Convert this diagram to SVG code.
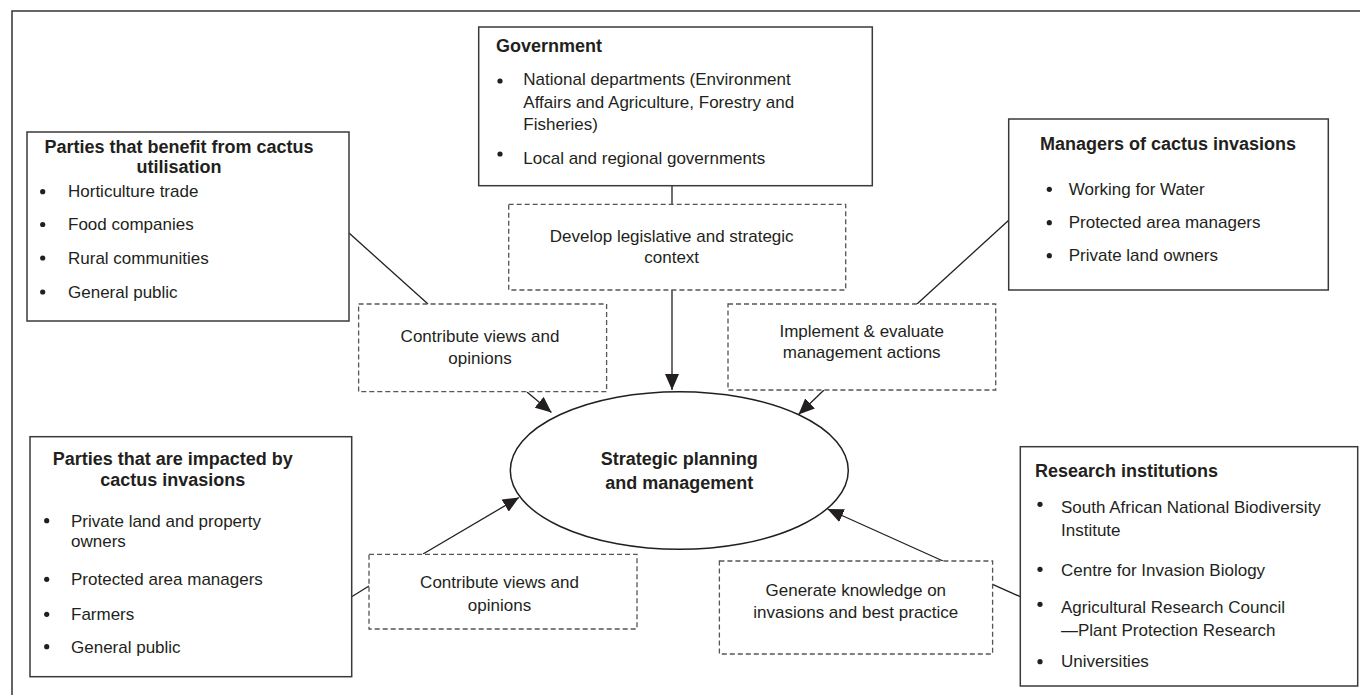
<svg xmlns="http://www.w3.org/2000/svg" width="1360" height="695" viewBox="0 0 1360 695">
<defs>
<marker id="arr" markerUnits="userSpaceOnUse" markerWidth="16" markerHeight="14" refX="16" refY="7" orient="auto">
<path d="M0,0 L16,7 L0,14 z" fill="#231f20"/>
</marker>
<style>
.box{fill:#fff;stroke:#3a3a3a;stroke-width:1.5}
.dash{fill:#fff;stroke:#555;stroke-width:1.3;stroke-dasharray:5 3}
.t{font-family:"Liberation Sans",Arial,sans-serif;font-size:17px;fill:#231f20}
.b{font-family:"Liberation Sans",Arial,sans-serif;font-size:18px;font-weight:bold;fill:#231f20}
.m{text-anchor:middle}
.dot{fill:#231f20}
.ln{stroke:#231f20;stroke-width:1.3;fill:none}
</style>
</defs>
<rect width="1360" height="695" fill="#fff"/>
<path d="M12,695 V11 H1360" fill="none" stroke="#333" stroke-width="1.5"/>

<g id="connectors">
<line class="ln" x1="349" y1="233" x2="428" y2="304"/>
<line class="ln" x1="1009" y1="220" x2="917" y2="304"/>
<line class="ln" x1="672" y1="186" x2="672" y2="204"/>
<line class="ln" x1="672" y1="290" x2="672" y2="390" marker-end="url(#arr)"/>
<line class="ln" x1="527" y1="392" x2="551.5" y2="412.5" marker-end="url(#arr)"/>
<line class="ln" x1="824" y1="390" x2="798.5" y2="414.5" marker-end="url(#arr)"/>
<line class="ln" x1="423" y1="554" x2="519" y2="497.5" marker-end="url(#arr)"/>
<line class="ln" x1="943" y1="561" x2="827.5" y2="509" marker-end="url(#arr)"/>
<line class="ln" x1="351.7" y1="596.7" x2="369" y2="586"/>
<line class="ln" x1="992.6" y1="584.3" x2="1020.3" y2="596.7"/>
</g>

<g id="government">
<rect class="box" x="478.7" y="27" width="393.6" height="158.7"/>
<text class="b" x="496" y="52">Government</text>
<circle class="dot" cx="500" cy="81" r="2.6"/>
<text class="t" x="523.3" y="85">National departments (Environment</text>
<text class="t" x="523.3" y="108.3">Affairs and Agriculture, Forestry and</text>
<text class="t" x="523.3" y="130">Fisheries)</text>
<circle class="dot" cx="500" cy="154" r="2.6"/>
<text class="t" x="523.3" y="164">Local and regional governments</text>
</g>

<g id="benefit">
<rect class="box" x="27" y="132" width="322" height="189"/>
<text class="b m" x="179" y="153">Parties that benefit from cactus</text>
<text class="b m" x="179" y="173.3">utilisation</text>
<circle class="dot" cx="42.7" cy="191.7" r="2.6"/>
<text class="t" x="68" y="197.3">Horticulture trade</text>
<circle class="dot" cx="42.7" cy="224.5" r="2.6"/>
<text class="t" x="68" y="230">Food companies</text>
<circle class="dot" cx="42.7" cy="258" r="2.6"/>
<text class="t" x="68" y="264">Rural communities</text>
<circle class="dot" cx="42.7" cy="292" r="2.6"/>
<text class="t" x="68" y="297.7">General public</text>
</g>

<g id="managers">
<rect class="box" x="1008.7" y="119" width="319.6" height="171"/>
<text class="b m" x="1168" y="150">Managers of cactus invasions</text>
<circle class="dot" cx="1049.3" cy="189.3" r="2.6"/>
<text class="t" x="1068.7" y="195">Working for Water</text>
<circle class="dot" cx="1049.3" cy="222.7" r="2.6"/>
<text class="t" x="1068.7" y="228.3">Protected area managers</text>
<circle class="dot" cx="1049.3" cy="255.7" r="2.6"/>
<text class="t" x="1068.7" y="261">Private land owners</text>
</g>

<g id="impacted">
<rect class="box" x="30" y="436.7" width="321.7" height="240"/>
<text class="b m" x="172.7" y="465">Parties that are impacted by</text>
<text class="b m" x="172.7" y="485.7">cactus invasions</text>
<circle class="dot" cx="46.7" cy="520.7" r="2.6"/>
<text class="t" x="71" y="526.7">Private land and property</text>
<text class="t" x="71" y="547.3">owners</text>
<circle class="dot" cx="46.7" cy="579.3" r="2.6"/>
<text class="t" x="71" y="585">Protected area managers</text>
<circle class="dot" cx="46.7" cy="614.3" r="2.6"/>
<text class="t" x="71" y="620">Farmers</text>
<circle class="dot" cx="46.7" cy="646.7" r="2.6"/>
<text class="t" x="71" y="652.7">General public</text>
</g>

<g id="research">
<rect class="box" x="1020.3" y="446.7" width="337.4" height="239.3"/>
<text class="b" x="1035" y="476.7">Research institutions</text>
<circle class="dot" cx="1040" cy="504.3" r="2.6"/>
<text class="t" x="1061" y="513.3">South African National Biodiversity</text>
<text class="t" x="1061" y="536">Institute</text>
<circle class="dot" cx="1040" cy="569.3" r="2.6"/>
<text class="t" x="1061" y="575.7">Centre for Invasion Biology</text>
<circle class="dot" cx="1040" cy="604.3" r="2.6"/>
<text class="t" x="1061" y="613.3">Agricultural Research Council</text>
<text class="t" x="1061" y="636">—Plant Protection Research</text>
<circle class="dot" cx="1040" cy="661.7" r="2.6"/>
<text class="t" x="1061" y="667.3">Universities</text>
</g>

<g id="develop">
<rect class="dash" x="508.7" y="204.3" width="337" height="85.7"/>
<text class="t m" x="671.7" y="241.7">Develop legislative and strategic</text>
<text class="t m" x="671.7" y="263.3">context</text>
</g>

<g id="contribute-upper">
<rect class="dash" x="358.6" y="304" width="248" height="87.7"/>
<text class="t m" x="480" y="341.7">Contribute views and</text>
<text class="t m" x="480" y="364">opinions</text>
</g>

<g id="implement">
<rect class="dash" x="728" y="304" width="267.7" height="86"/>
<text class="t m" x="861.7" y="336.7">Implement &amp; evaluate</text>
<text class="t m" x="861.7" y="358.3">management actions</text>
</g>

<g id="contribute-lower">
<rect class="dash" x="369" y="554.3" width="268" height="74.7"/>
<text class="t m" x="499.5" y="588.3">Contribute views and</text>
<text class="t m" x="499.5" y="611">opinions</text>
</g>

<g id="generate">
<rect class="dash" x="719.4" y="561" width="273.2" height="93"/>
<text class="t m" x="855.8" y="595.7">Generate knowledge on</text>
<text class="t m" x="855.8" y="617.7">invasions and best practice</text>
</g>

<g id="strategic">
<ellipse cx="679.3" cy="470.5" rx="169" ry="78.8" fill="#fff" stroke="#231f20" stroke-width="1.5"/>
<text class="b m" x="679.3" y="465">Strategic planning</text>
<text class="b m" x="679.3" y="489.3">and management</text>
</g>
</svg>
